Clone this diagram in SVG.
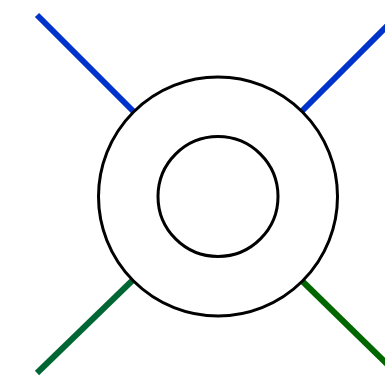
<svg xmlns="http://www.w3.org/2000/svg" width="385" height="383" viewBox="0 0 385 383">
<style>
.ln{stroke-width:6;fill:none}
.c{fill:#fff;stroke:#000;stroke-width:3}
</style>
<rect width="385" height="383" fill="#fff"/>
<g id="connectors">
<line class="ln" x1="37" y1="15" x2="140" y2="118" stroke="#0033cc"/>
<line class="ln" x1="388" y1="25" x2="296" y2="117" stroke="#0033cc"/>
<line class="ln" x1="37" y1="373" x2="138" y2="275" stroke="#006633"/>
<line class="ln" x1="388" y1="365" x2="296" y2="275" stroke="#006600"/>
</g>
<g id="outer"><circle class="c" cx="218" cy="196.5" r="119.5"/></g>
<g id="inner"><circle class="c" cx="218" cy="196.5" r="60"/></g>
</svg>
